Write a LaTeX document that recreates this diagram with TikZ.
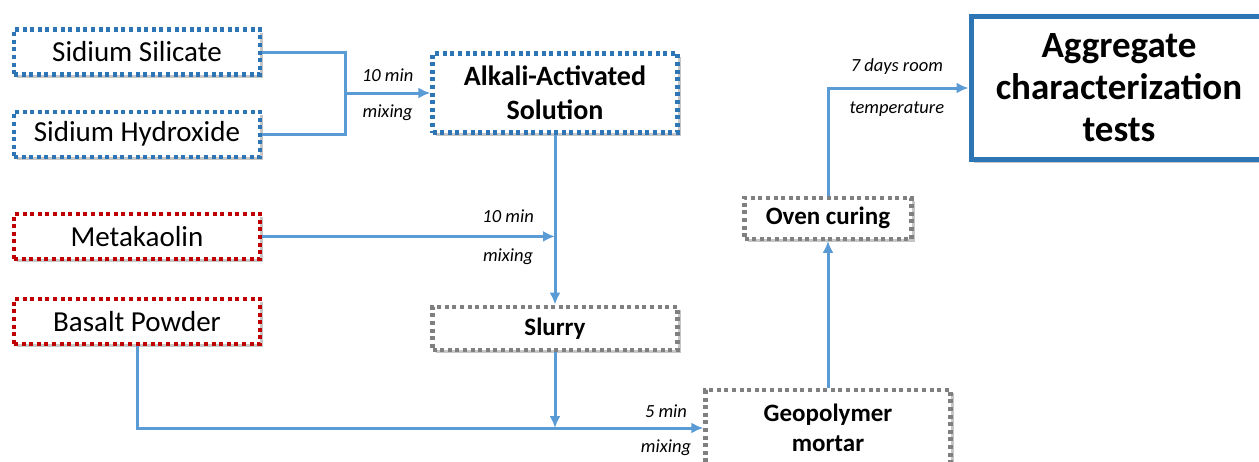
\documentclass[tikz,border=0pt]{standalone}
\usepackage{fontspec}
\setmainfont{Carlito}
\usetikzlibrary{positioning, arrows.meta, shadows}

\definecolor{lineblue}{RGB}{91,155,213}
\definecolor{boxblue}{RGB}{46,117,182}
\definecolor{boxred}{RGB}{192,0,0}
\definecolor{boxgray}{RGB}{128,128,128}

\begin{document}
\begin{tikzpicture}[x=1pt, y=-1pt,
    box/.style={draw, rectangle, line width=4.2pt, dash pattern=on 4pt off 3.6pt,
        fill=white, align=center, inner sep=2pt,
        drop shadow={shadow xshift=3pt, shadow yshift=-3pt, opacity=0.45}},
    input/.style={box, minimum width=246pt, minimum height=45pt,
        font=\fontsize{29}{33}\selectfont},
    proc/.style={box, minimum width=245pt, font=\fontsize{25}{31}\selectfont\bfseries},
    flow/.style={draw=lineblue, line width=3pt},
    tip/.style={-{Latex[length=12pt, width=11pt]}},
    lbl/.style={font=\fontsize{18.5}{21}\selectfont\itshape, inner sep=0pt}]

    \useasboundingbox (0,0) rectangle (1259,461);

    \node[input, draw=boxblue] (1) at (137,52) {Sidium Silicate};
    \node[input, draw=boxblue] (2) [below=33pt of 1] {Sidium Hydroxide};
    \node[input, draw=boxred] (4) [below=53pt of 2] {Metakaolin};
    \node[input, draw=boxred] (5) [below=36pt of 4] {Basalt Powder};

    \node[proc, draw=boxblue, minimum height=79pt, font=\fontsize{28}{34}\selectfont\bfseries]
        (3) at (555,93) {Alkali-Activated\\Solution};
    \node[proc, draw=boxgray, minimum height=43pt] (6) [below=170pt of 3] {Slurry};
    \node[proc, draw=boxgray, minimum height=80pt] (7) at (828,430) {};
    \node[font=\fontsize{25}{30}\selectfont\bfseries, align=center] (7t) at (828,428) {Geopolymer\\mortar};
    \node[proc, draw=boxgray, minimum width=167pt, minimum height=41pt] (8) [above=147pt of 7] {Oven curing};
    \node[draw=boxblue, line width=5pt, fill=white, align=center, rectangle,
        minimum width=296pt, minimum height=143pt,
        font=\fontsize{37}{42}\selectfont\bfseries,
        drop shadow={shadow xshift=3pt, shadow yshift=-3pt, opacity=0.45}]
        (9) at (1119,88) {Aggregate\\characterization\\tests};

    \coordinate (m) at (345,93);

    \draw[flow] (1) -| (m);
    \draw[flow] (2) -| (m);
    \draw[flow, tip] (m) -- (3)
        node[lbl, midway, yshift=18pt] {10 min}
        node[lbl, midway, yshift=-20pt] {mixing};

    \draw[flow, tip] (3) -- (6);
    \draw[flow, tip] (4) -- (4 -| 3)
        node[lbl, pos=0.84, yshift=20pt] {10 min}
        node[lbl, pos=0.84, yshift=-20pt] {mixing};

    \draw[flow, tip] (6) -- (6 |- 7t);
    \draw[flow, tip] (5) |- (7.west |- 7t)
        node[lbl, pos=0.967, yshift=17pt] {5 min}
        node[lbl, pos=0.967, yshift=-20pt] {mixing};

    \draw[flow, tip] (7) -- (8);
    \draw[flow, tip] (8) |- (9)
        node[lbl, pos=0.745, yshift=21pt] {7 days room}
        node[lbl, pos=0.745, yshift=-21pt] {temperature};
\end{tikzpicture}
\end{document}
